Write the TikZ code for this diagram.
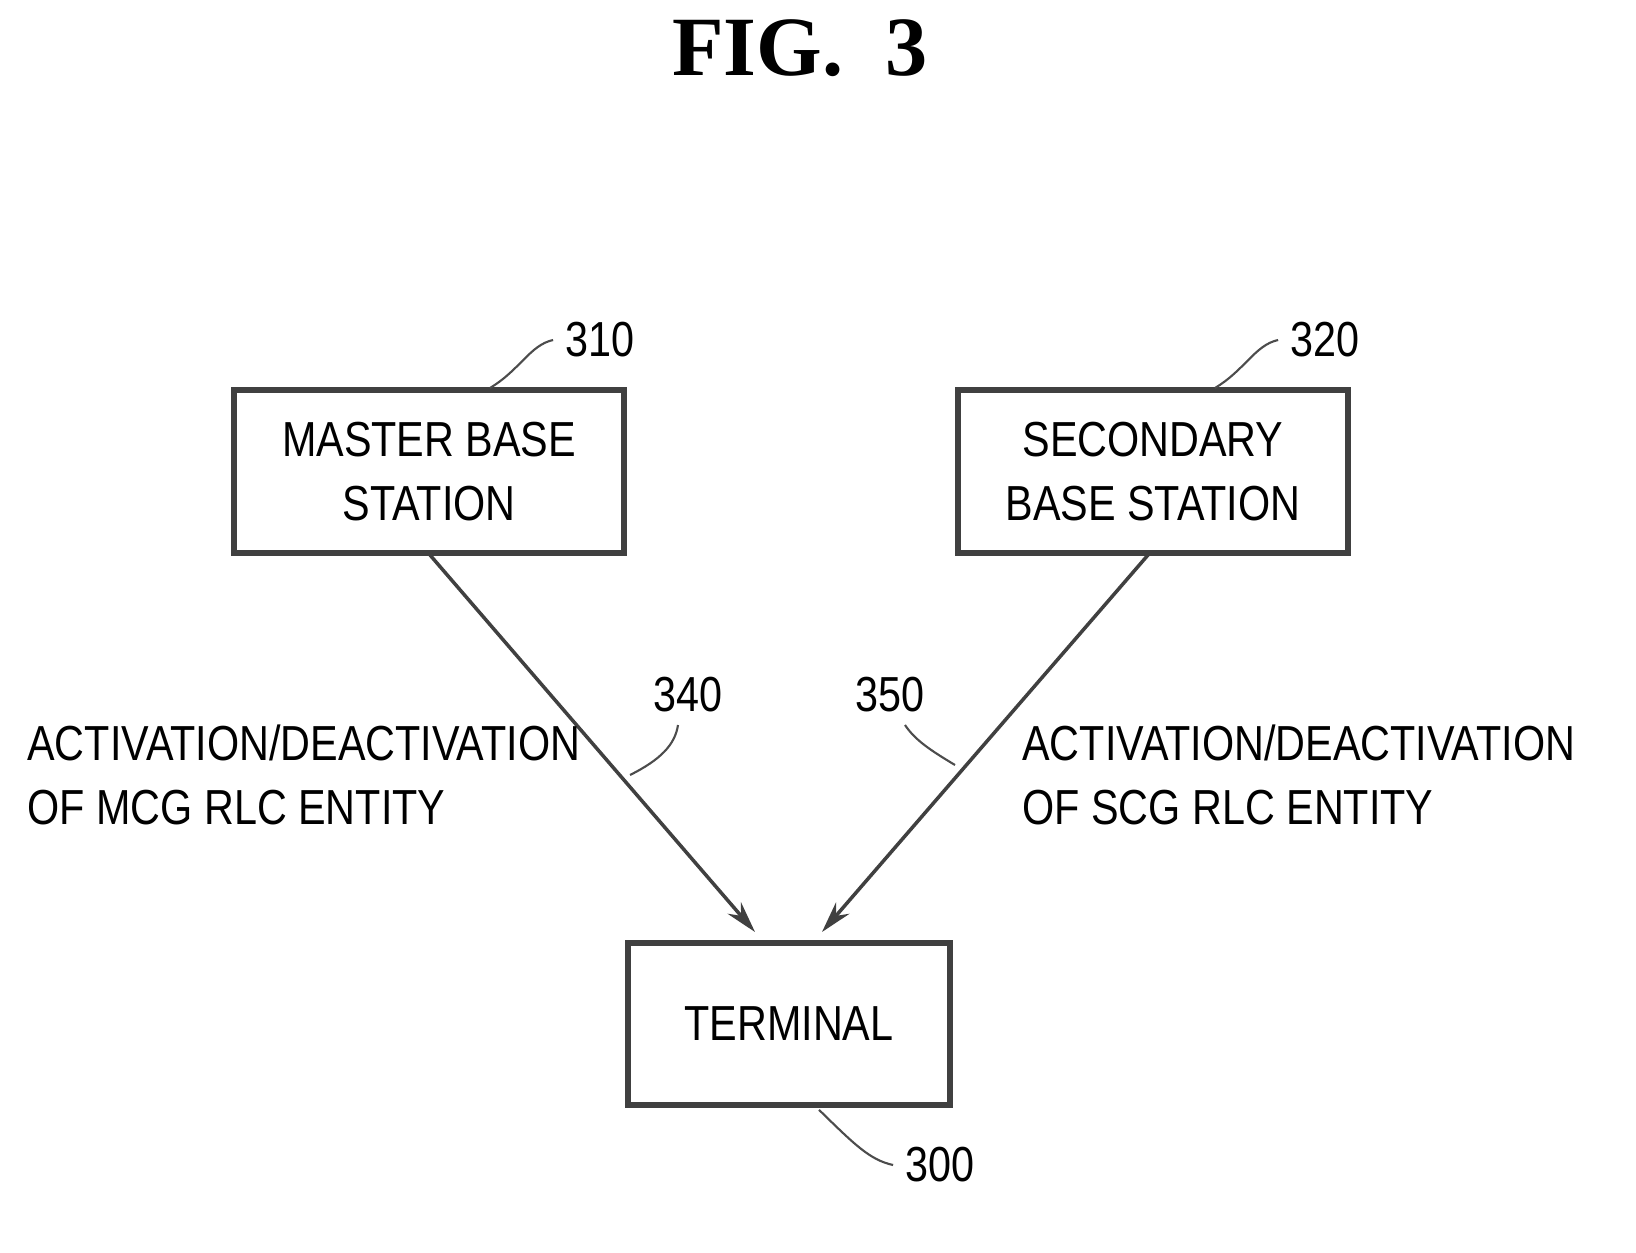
\documentclass[tikz,border=0pt]{standalone}
\usepackage{fontspec}
\setmainfont{Liberation Sans}[FakeStretch=0.84]
\newfontfamily\figfont{Liberation Serif}
\usetikzlibrary{arrows.meta}
\tikzset{
  unit/.style={draw=black!75, line width=1.6pt, minimum width=3.9cm, minimum height=1.63cm, align=center, inner sep=0pt, font=\fontsize{14}{18}\selectfont},
  note/.style={font=\fontsize{14}{18}\selectfont, align=left, anchor=west},
  refnum/.style={font=\fontsize{14}{16}\selectfont},
  leader/.style={black!70, line width=0.6pt},
  link/.style={black!75, line width=1pt, -{Stealth[length=9pt,width=5pt]}}
}
\begin{document}
\begin{tikzpicture}[x=1cm,y=1cm]
  \useasboundingbox (0,0) rectangle (16.36,-12.53);

  % Title
  \node[font=\figfont\bfseries\fontsize{24}{28}\selectfont] (title) at (8.0,-0.48) {FIG.\ \ 3};

  % Stations and terminal
  \node[unit] (master) at (4.29,-4.715) {MASTER BASE\\STATION};
  \node[unit] (second) at (11.53,-4.715) {SECONDARY\\BASE STATION};
  \node[unit, minimum width=3.22cm, minimum height=1.62cm] (term) at (7.89,-10.24) {TERMINAL};

  % Links
  \coordinate (m1) at (4.30,-5.55);
  \coordinate (m2) at (7.55,-9.32);
  \coordinate (s1) at (11.48,-5.55);
  \coordinate (s2) at (8.22,-9.32);
  \draw[link] (m1) -- (m2);
  \draw[link] (s1) -- (s2);

  % Link labels
  \node[note] (mlab) at (0.15,-7.75) {ACTIVATION/DEACTIVATION\\OF MCG RLC ENTITY};
  \node[note] (slab) at (10.10,-7.75) {ACTIVATION/DEACTIVATION\\OF SCG RLC ENTITY};

  % Reference numerals
  \node[refnum] (n310) at (6.00,-3.40) {310};
  \node[refnum] (n320) at (13.25,-3.40) {320};
  \node[refnum] (n340) at (6.88,-6.95) {340};
  \node[refnum] (n350) at (8.90,-6.95) {350};
  \node[refnum] (n300) at (9.40,-11.65) {300};
  \draw[leader] (4.90,-3.88) .. controls (5.2,-3.7) and (5.3,-3.45) .. (n310.west);
  \draw[leader] (12.15,-3.88) .. controls (12.45,-3.7) and (12.55,-3.45) .. (n320.west);
  \draw[leader] (6.30,-7.75) .. controls (6.6,-7.6) and (6.75,-7.45) .. (6.78,-7.25);
  \draw[leader] (9.55,-7.65) .. controls (9.3,-7.5) and (9.15,-7.4) .. (9.05,-7.25);
  \draw[leader] (term.south) ++(0.3,-0.02) .. controls (8.55,-11.45) and (8.7,-11.6) .. (n300.west);
\end{tikzpicture}
\end{document}
